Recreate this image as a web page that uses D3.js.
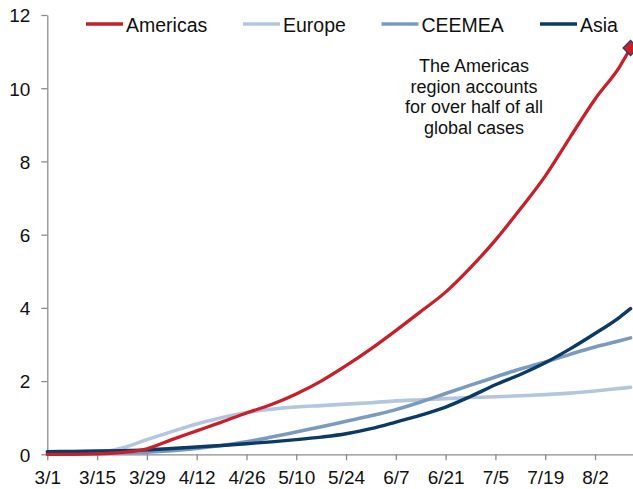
<!DOCTYPE html>
<html>
<head>
<meta charset="utf-8">
<script src="https://cdn.jsdelivr.net/npm/d3@7"></script>
<style>
  body { margin: 0; background: #fff; }
  svg { display: block; font-family: "Liberation Sans", Arial, sans-serif; }
  .line { fill: none; stroke-linejoin: round; stroke-linecap: round; }
  .axis path, .axis line { stroke: #8c8c8c; stroke-width: 1.3; }
  .axis text { fill: #111; font-size: 19px; }
</style>
</head>
<body>
<svg id="chart" width="633" height="489"></svg>
<script>
// dates (2020), weekly plus the last point
var dates = ["3/1", "3/8", "3/15", "3/22", "3/29", "4/5", "4/12", "4/19", "4/26", "5/3",
             "5/10", "5/17", "5/24", "5/31", "6/7", "6/14", "6/21", "6/28", "7/5", "7/12",
             "7/19", "7/26", "8/2", "8/9", "8/12"];

// cumulative cases, millions
var americas = [0.00, 0.00, 0.01, 0.05, 0.15, 0.40, 0.64, 0.88, 1.13, 1.36,
                1.65, 2.00, 2.42, 2.88, 3.38, 3.90, 4.43, 5.10, 5.85, 6.70,
                7.60, 8.66, 9.70, 10.60, 11.10];
var europe   = [0.00, 0.01, 0.04, 0.17, 0.40, 0.62, 0.83, 1.00, 1.14, 1.23,
                1.29, 1.33, 1.37, 1.41, 1.46, 1.49, 1.52, 1.55, 1.57, 1.60,
                1.63, 1.67, 1.73, 1.80, 1.83];
var ceemea   = [0.00, 0.01, 0.02, 0.04, 0.06, 0.10, 0.16, 0.24, 0.34, 0.47,
                0.61, 0.75, 0.90, 1.05, 1.22, 1.43, 1.66, 1.89, 2.11, 2.33,
                2.52, 2.73, 2.93, 3.10, 3.18];
var asia     = [0.07, 0.08, 0.09, 0.10, 0.12, 0.16, 0.20, 0.24, 0.29, 0.34,
                0.40, 0.47, 0.56, 0.70, 0.88, 1.07, 1.29, 1.58, 1.90, 2.18,
                2.50, 2.88, 3.30, 3.75, 3.98];

var seriesNames = ["Americas", "Europe", "CEEMEA", "Asia"];
var seriesColors = ["#c8202b", "#b3c6dd", "#7b9bbe", "#0b3a66"];
var xTicks = ["3/1", "3/15", "3/29", "4/12", "4/26", "5/10", "5/24", "6/7", "6/21", "7/5", "7/19", "8/2"];
var yTicks = [0, 2, 4, 6, 8, 10, 12];
var note = ["The Americas", "region accounts", "for over half of all", "global cases"];

var parse = d3.timeParse("%Y/%m/%d");
function toDate(s) { return parse("2020/" + s); }

var svg = d3.select("#chart");
var chartWidth = 633;

var margin = {left: 47.3, bottom: 454.3, top: 15};

// scale anchored on 3/1 and 8/2 ticks, then stretched to the right edge
var x0 = d3.scaleTime().domain([toDate("3/1"), toDate("8/2")]).range([margin.left, 595]);
var xScale = d3.scaleTime().domain([toDate("3/1"), x0.invert(chartWidth)]).range([margin.left, chartWidth]);
var yScale = d3.scaleLinear().domain([0, 12]).range([margin.bottom, margin.top]);

// y axis
svg.append("g")
    .attr("class", "axis")
    .attr("transform", "translate(" + margin.left + ",0)")
    .call(d3.axisLeft(yScale).tickValues(yTicks).tickSize(6).tickPadding(11).tickSizeOuter(0))
    .selectAll("text").attr("dy", "0.36em");

// x axis
svg.append("g")
    .attr("class", "axis")
    .attr("transform", "translate(0," + margin.bottom + ")")
    .call(d3.axisBottom(xScale)
        .tickValues(xTicks.map(toDate))
        .tickFormat(d3.timeFormat("%-m/%-d"))
        .tickSize(6).tickPadding(10).tickSizeOuter(0))
    .selectAll("text").attr("dy", "0.71em");

var line = d3.line()
    .x(function (d) { return xScale(d.date); })
    .y(function (d) { return yScale(d.value); })
    .curve(d3.curveMonotoneX);

var allSeries = [americas, europe, ceemea, asia];
var widths = [3.3, 3.6, 3.6, 3.4];

// draw back to front: Americas ends up on top
var order = [1, 2, 3, 0];
order.forEach(function (k) {
    var arr = dates.map(function (d, i) { return {date: toDate(d), value: allSeries[k][i]}; });
    svg.append("path")
        .datum(arr)
        .attr("class", "line")
        .attr("d", line)
        .attr("stroke", seriesColors[k])
        .attr("stroke-width", widths[k]);
});

// marker at the last Americas value
var last = dates.length - 1;
svg.append("path")
    .attr("d", d3.symbol().type(d3.symbolSquare).size(115))
    .attr("transform", "translate(" + xScale(toDate(dates[last])) + "," + yScale(americas[last]) + ") rotate(45)")
    .attr("fill", "#c8202b")
    .attr("stroke", "#1f3f6e")
    .attr("stroke-width", 1.2);

// legend
var legendX = [86, 243, 381.5, 540];
seriesNames.forEach(function (name, i) {
    var g = svg.append("g").attr("transform", "translate(" + legendX[i] + ",24)");
    g.append("line")
        .attr("x1", 0).attr("x2", 37)
        .attr("stroke", seriesColors[i])
        .attr("stroke-width", 3.5);
    g.append("text")
        .attr("x", 40)
        .attr("y", 7.5)
        .style("font-size", "19.5px")
        .style("fill", "#111")
        .text(name);
});

// annotation
var noteText = svg.append("text")
    .attr("text-anchor", "middle")
    .style("font-size", "18px")
    .style("fill", "#111");
note.forEach(function (t, i) {
    noteText.append("tspan")
        .attr("x", 474)
        .attr("y", 72 + i * 20.6)
        .text(t);
});
</script>
</body>
</html>
